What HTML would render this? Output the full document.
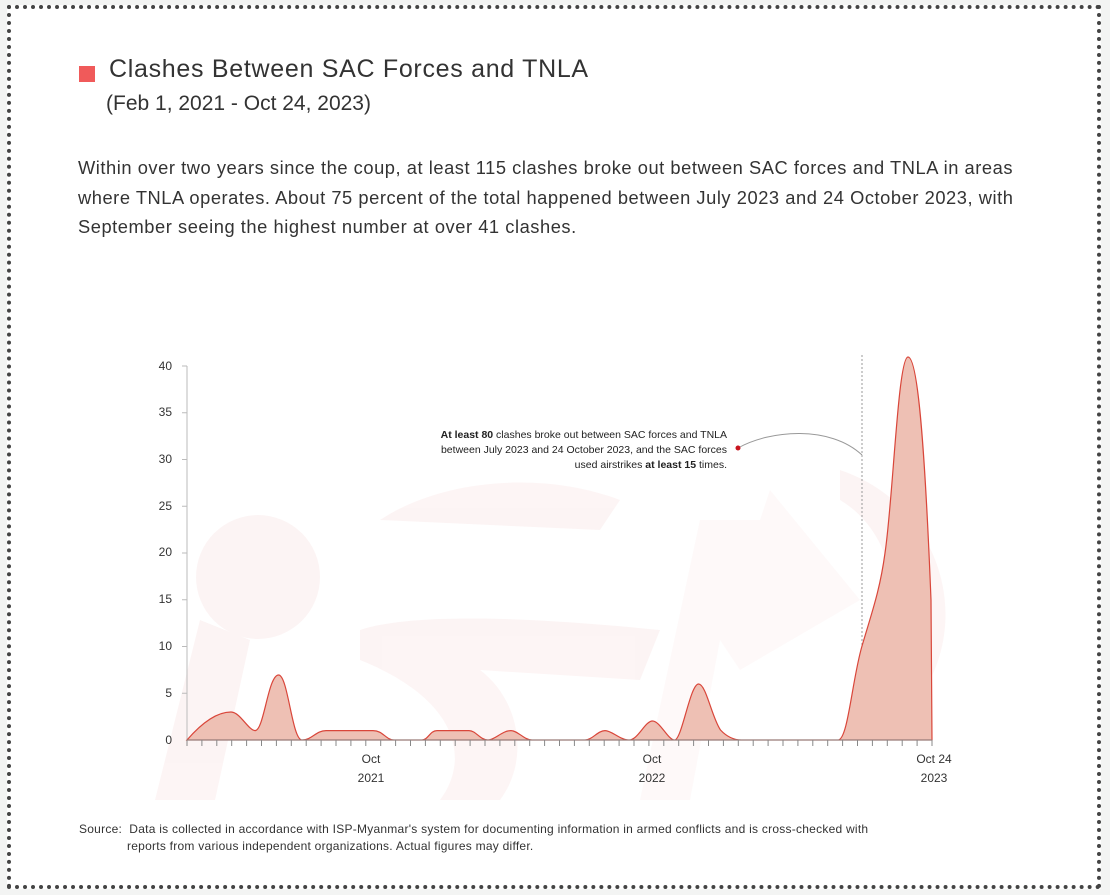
<!DOCTYPE html>
<html><head><meta charset="utf-8"><style>
html,body{margin:0;padding:0;background:#f3f4f3;width:1110px;height:895px;overflow:hidden;font-family:"Liberation Sans",sans-serif;color:#333}
.frame{position:absolute;left:7px;top:5px;width:1094px;height:884px;background:#fff;border:4px dotted #444;box-sizing:border-box}
.sq{position:absolute;left:79px;top:66px;width:16px;height:16px;background:#f05a5a}
.t1{position:absolute;left:109px;top:55px;font-size:25px;letter-spacing:0.7px;color:#333;white-space:nowrap}
.t2{position:absolute;left:106px;top:92px;font-size:21px;color:#333;white-space:nowrap}
.body{position:absolute;left:78px;top:153px;width:965px;font-size:18.3px;letter-spacing:0.55px;line-height:29.5px;color:#333}
.src{position:absolute;left:79px;top:821px;font-size:12px;letter-spacing:0.25px;line-height:17px;color:#333}
svg{position:absolute;left:0;top:0}
</style></head><body>
<div class="frame"></div>
<svg width="1110" height="895">
<g fill="#fbeeee" opacity="0.6">
<circle cx="258" cy="577" r="62"/>
<path d="M200 620 L250 640 L215 800 L155 800 Z"/>
<path d="M380 520 C440 480 540 470 620 500 L600 530 L380 520 Z"/>
<path d="M360 630 C420 610 560 620 660 630 L640 680 L480 670 C520 700 530 760 500 800 L440 800 C470 760 460 700 360 660 Z"/>
<path d="M700 520 L760 520 L770 490 L860 600 L740 670 L720 640 L690 800 L640 800 Z" opacity="0.6"/>
<path d="M840 470 C930 500 970 600 930 680 L880 680 C910 600 890 530 840 500 Z"/>
</g>
<g font-size="12" fill="#333" text-anchor="end">
<text x="172" y="744">0</text><text x="172" y="697">5</text><text x="172" y="650">10</text>
<text x="172" y="603">15</text><text x="172" y="556">20</text><text x="172" y="510">25</text>
<text x="172" y="463">30</text><text x="172" y="416">35</text><text x="172" y="370">40</text>
</g>
<g stroke="#bbb" stroke-width="1">
<line x1="187" y1="366" x2="187" y2="740"/>
<line x1="182" y1="366" x2="187" y2="366"/><line x1="182" y1="412.75" x2="187" y2="412.75"/>
<line x1="182" y1="459.5" x2="187" y2="459.5"/><line x1="182" y1="506.25" x2="187" y2="506.25"/>
<line x1="182" y1="553" x2="187" y2="553"/><line x1="182" y1="599.75" x2="187" y2="599.75"/>
<line x1="182" y1="646.5" x2="187" y2="646.5"/><line x1="182" y1="693.25" x2="187" y2="693.25"/>
</g>
<line x1="862" y1="355" x2="862" y2="740" stroke="#999" stroke-dasharray="2,2"/>
<path d="M187 740 C200 725 215 712 231 712 C240 712 248 730 255 730.6 C264 731 268 675 278.6 675 C288 675 292 740 302 740 C312 740 316 730.6 326 730.6 L373 730.6 C383 730.6 386 740 394 740 L422 740 C428 740 430 730.6 437 730.6 L469 730.6 C476 730.6 480 740 488 740 C495 740 502 730.6 511 730.6 C518 730.6 524 740 532 740 L585 740 C592 740 598 730.6 605 730.6 C612 730.6 620 740 629 740 C638 740 645 721 652.5 721 C660 721 668 740 674.5 740 C682 740 690 684 698.6 684 C706 684 712 718 720.5 730 C728 738 735 740 741.5 740 L838 740 C848 740 852 680 862 646 C872 612 880 590 885 553 C893 500 898 357 908 357 C918 357 925 450 931 600 L932 740 Z" fill="#eec0b4" stroke="#d9463a" stroke-width="1.2"/>
<line x1="187" y1="740" x2="932" y2="740" stroke="#888"/>
<g stroke="#888" stroke-width="1" id="ticks"></g>
<g font-size="12" fill="#333" text-anchor="middle">
<text x="371" y="763">Oct</text><text x="371" y="782">2021</text>
<text x="652" y="763">Oct</text><text x="652" y="782">2022</text>
<text x="934" y="763">Oct 24</text><text x="934" y="782">2023</text>
</g>
<path d="M738 448 C770 430 830 425 862 455" fill="none" stroke="#999"/>
<circle cx="738" cy="448" r="2.5" fill="#c8141e"/>
<g font-size="10.5" fill="#222" text-anchor="end">
<text x="727" y="438"><tspan font-weight="bold">At least 80</tspan> clashes broke out between SAC forces and TNLA</text>
<text x="727" y="453">between July 2023 and 24 October 2023, and the SAC forces</text>
<text x="727" y="468">used airstrikes <tspan font-weight="bold">at least 15</tspan> times.</text>
</g>
</svg>
<div class="sq"></div>
<div class="t1">Clashes Between SAC Forces and TNLA</div>
<div class="t2">(Feb 1, 2021 - Oct 24, 2023)</div>
<div class="body">Within over two years since the coup, at least 115 clashes broke out between SAC forces and TNLA in areas where TNLA operates. About 75 percent of the total happened between July 2023 and 24 October 2023, with September seeing the highest number at over 41 clashes.</div>
<div class="src">Source:&nbsp; Data is collected in accordance with ISP-Myanmar's system for documenting information in armed conflicts and is cross-checked with<br><span style="padding-left:48px">reports from various independent organizations. Actual figures may differ.</span></div>
<script>
var g=document.getElementById('ticks'),s='';
for(var i=0;i<=50;i++){var x=187+i*14.9;s+='<line x1="'+x+'" y1="740" x2="'+x+'" y2="746"/>';}
g.innerHTML=s;
</script>
</body></html>
